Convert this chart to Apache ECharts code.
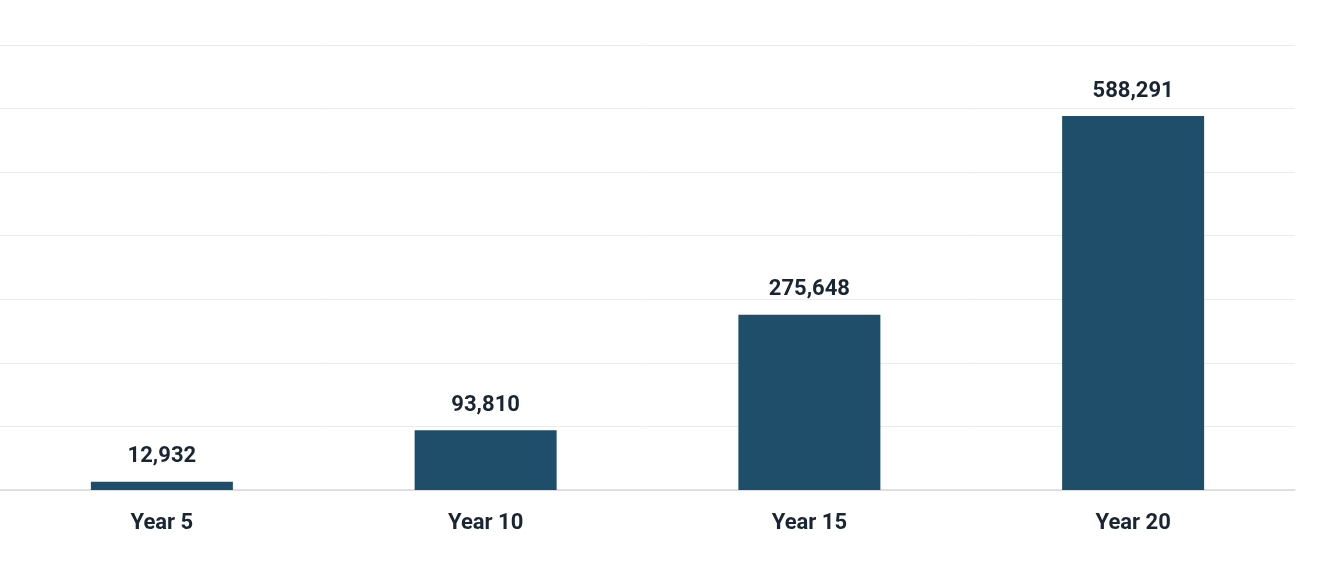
<!DOCTYPE html>
<html><head><meta charset="utf-8">
<script src="https://cdn.jsdelivr.net/npm/echarts@6/dist/echarts.min.js"></script>
<style>html,body{margin:0;padding:0;background:#fff}#c{width:1317px;height:583px}</style>
</head><body><div id="c"></div>
<script>
const categories = ["Year 5", "Year 10", "Year 15", "Year 20"];
const values = [12932, 93810, 275648, 588291];
const chart = echarts.init(document.getElementById('c'));
chart.setOption({
  animation: false,
  grid: { left: 0, right: 22, top: 45, bottom: 93 },
  xAxis: {
    type: 'category', data: categories,
    axisLine: { lineStyle: { color: '#d9d9d9', width: 1.5 } },
    axisTick: { show: false },
    axisLabel: { color: '#1a2533', fontSize: 22, fontWeight: 'bold', fontFamily: 'Roboto', margin: 22 }
  },
  yAxis: {
    type: 'value', min: 0, max: 700000, interval: 100000,
    axisLabel: { show: false }, axisLine: { show: false }, axisTick: { show: false },
    splitLine: { lineStyle: { color: '#ebebeb' } }
  },
  series: [{
    type: 'bar', data: values, barWidth: 142,
    itemStyle: { color: '#1f4e6b' },
    label: {
      show: true, position: 'top', distance: 14,
      color: '#1a2533', fontSize: 22, fontWeight: 'bold', fontFamily: 'Roboto',
      formatter: p => p.value.toLocaleString('en-US')
    }
  }]
});
</script></body></html>
